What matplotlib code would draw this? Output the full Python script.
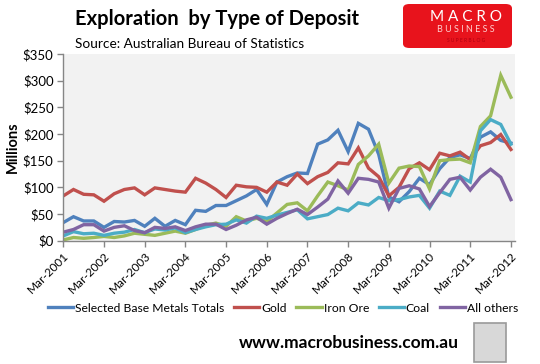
import matplotlib
matplotlib.use("Agg")
import matplotlib.pyplot as plt
from matplotlib.patches import FancyBboxPatch, Rectangle

quarters = [f"{m}-{y}" for y in range(2001, 2013) for m in ["Mar", "Jun", "Sep", "Dec"]][:45]
tick_labels = [f"Mar-{y}" for y in range(2001, 2013)]

base_metals = [34, 45, 37, 37, 25, 36, 35, 38, 27, 42, 27, 38, 30, 57, 55, 66, 66, 75, 84, 96, 68, 110, 120,
               127, 126, 181, 189, 207, 167, 220, 209, 162, 82, 73, 92, 117, 105, 135, 156, 161, 154, 194, 204, 188, 183]
gold = [84, 96, 87, 86, 74, 88, 96, 99, 86, 99, 96, 93, 91, 117, 108, 96, 81, 104, 101, 100, 91, 110, 104,
        125, 107, 120, 128, 146, 144, 174, 136, 120, 84, 100, 135, 146, 133, 164, 159, 166, 152, 178, 184, 199, 171]
iron_ore = [1.5, 6, 4.5, 6, 8, 6, 9, 14, 12, 10, 14, 18, 14, 21, 29, 33, 27, 45, 37, 42, 36, 52, 68,
            71, 56, 84, 110, 103, 95, 143, 159, 181, 108, 136, 140, 139, 97, 150, 152, 153, 146, 214, 234, 310, 269]
coal = [9, 17, 13, 14, 10, 14, 16, 21, 15, 22, 20, 24, 15, 21, 26, 30, 31, 39, 33, 46, 42, 48, 53,
        58, 41, 45, 49, 61, 56, 71, 67, 81, 75, 77, 82, 85, 61, 93, 85, 121, 110, 206, 227, 218, 181]
all_others = [16, 21, 30, 30, 18, 25, 28, 19, 15, 25, 23, 26, 19, 26, 31, 31, 21, 29, 39, 44, 31, 42, 51,
              59, 49, 63, 78, 112, 89, 117, 115, 110, 61, 98, 103, 97, 64, 90, 115, 119, 95, 119, 134, 119, 77]

series = [
    ("Selected Base Metals Totals", base_metals, "#4F81BD"),
    ("Gold", gold, "#C0504D"),
    ("Iron Ore", iron_ore, "#9BBB59"),
    ("Coal", coal, "#4BACC6"),
    ("All others", all_others, "#8064A2"),
]

plt.rcParams['font.family'] = ['Lato', 'DejaVu Sans']

W, H = 540, 364
fig = plt.figure(figsize=(W / 100, H / 100), dpi=100)
fig.patch.set_facecolor("white")

ax = fig.add_axes([63.3 / W, 1 - 240.7 / H, (515 - 63.3) / W, (240.7 - 54) / H])
ax.set_facecolor("#F2F2F2")

x = list(range(len(quarters)))
for name, vals, col in series:
    ax.plot(x, vals, color=col, lw=2.4, label=name, solid_joinstyle="miter")

ax.set_xlim(0, 44.4)
ax.set_ylim(0, 350)
ax.set_yticks(range(0, 351, 50))
ax.set_yticklabels([f"${v}" for v in range(0, 351, 50)], fontsize=9.5)
ax.set_xticks(range(0, 45, 4))
ax.set_xticklabels(tick_labels, rotation=45, ha="right", va="top", fontsize=8.5,
                   rotation_mode="anchor")
for s in ["top", "right"]:
    ax.spines[s].set_visible(False)
for s in ["left", "bottom"]:
    ax.spines[s].set_color("#868686")
    ax.spines[s].set_linewidth(1)
ax.tick_params(axis="both", direction="out", color="#868686", length=4, width=1)
ax.tick_params(axis="x", pad=3)
ax.tick_params(axis="y", pad=3)

ax.set_ylabel("Millions", fontsize=10.5, fontweight="bold", labelpad=2)

leg = fig.legend(loc="center", bbox_to_anchor=(283 / W, 1 - 308 / H), ncol=5, frameon=False,
                 fontsize=8.7, handlelength=2.1, handletextpad=0.15, columnspacing=0.8)

fig.text(75 / W, 1 - 19 / H, "Exploration  by Type of Deposit", fontsize=14.5,
         fontweight="bold", ha="left", va="center")
fig.text(75 / W, 1 - 44 / H, "Source: Australian Bureau of Statistics", fontsize=9.8,
         ha="left", va="center")

# logo
logo = FancyBboxPatch((403 / W, 1 - 48 / H), (512 - 403) / W, 44 / H,
                      boxstyle="round,pad=0,rounding_size=0.012", transform=fig.transFigure,
                      facecolor="#E8131C", edgecolor="none")
fig.patches.append(logo)
fig.text(466 / W, 1 - 17 / H, "M A C R O", color="white", fontsize=11, ha="center", va="center")
fig.text(466 / W, 1 - 30 / H, "B U S I N E S S", color="#FFD0D0", fontsize=6.5, ha="center", va="center")
fig.text(466 / W, 1 - 40 / H, "S U P E R B L O G", color="#B00010", fontsize=3.5, ha="center", va="center")

fig.text(349 / W, 1 - 343 / H, "www.macrobusiness.com.au", fontsize=12.5, fontweight="bold",
         ha="center", va="center")

img = Rectangle((474 / W, 1 - 362 / H), 32 / W, 39 / H, transform=fig.transFigure,
                facecolor="#D8D8D8", edgecolor="#9A9A9A", lw=1.2)
fig.patches.append(img)

fig.savefig("out.png", dpi=100, facecolor="white")
